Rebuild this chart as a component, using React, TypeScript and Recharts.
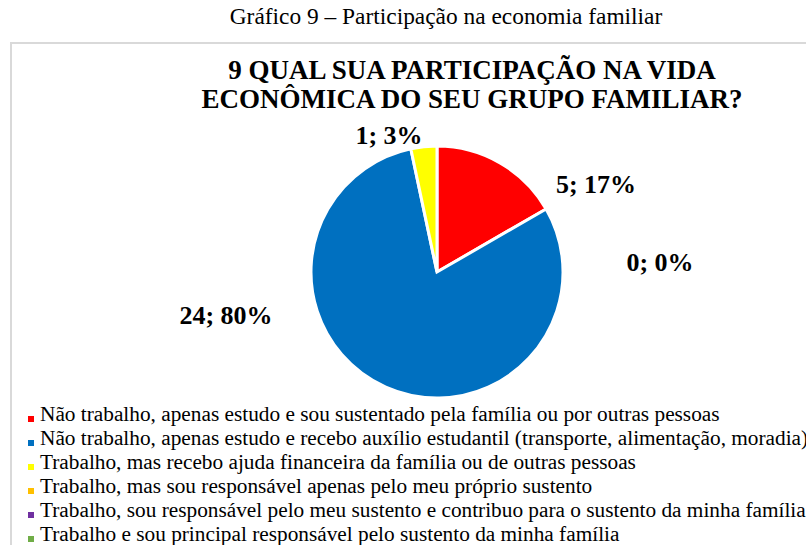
import React from 'react';
import { PieChart, Pie, Cell, Legend } from 'recharts';

const categories = [
  'Não trabalho, apenas estudo e sou sustentado pela família ou por outras pessoas',
  'Não trabalho, apenas estudo e recebo auxílio estudantil (transporte, alimentação, moradia)',
  'Trabalho, mas recebo ajuda financeira da família ou de outras pessoas',
  'Trabalho, mas sou responsável apenas pelo meu próprio sustento',
  'Trabalho, sou responsável pelo meu sustento e contribuo para o sustento da minha família',
  'Trabalho e sou principal responsável pelo sustento da minha família',
];
const values = [5, 24, 1, 0, 0, 0];
const colors = ['#FF0000', '#0070C0', '#FFFF00', '#FFC000', '#7030A0', '#70AD47'];
const caption = 'Gráfico 9 – Participação na economia familiar';
const titleLines = ['9 QUAL SUA PARTICIPAÇÃO NA VIDA', 'ECONÔMICA DO SEU GRUPO FAMILIAR?'];

// label placement offsets relative to pie centre (Excel best-fit layout)
const labelOffsets: Record<number, [number, number]> = {
  0: [159, -88],
  1: [-211, 43],
  2: [-48, -137],
  3: [223, -10],
};

const data = categories.map((name, i) => ({ name, value: values[i], color: colors[i] }));
const total = values.reduce((a, b) => a + b, 0);

const FONT = '"Liberation Serif", "Times New Roman", serif';

const renderLabel = (props: any) => {
  const { cx, cy, index, value } = props;
  const off = labelOffsets[index];
  if (!off) return null;
  const pct = Math.round((value / total) * 100);
  return (
    <text
      x={cx + off[0]}
      y={cy + off[1]}
      textAnchor="middle"
      dominantBaseline="central"
      fontFamily={FONT}
      fontWeight="bold"
      fontSize={26}
      fill="#000"
    >
      {`${value}; ${pct}%`}
    </text>
  );
};

const renderLegend = () => (
  <div style={{ fontFamily: FONT, fontSize: 21.3, color: '#000', lineHeight: '24px' }}>
    {data.map((d) => (
      <div key={d.name} style={{ display: 'flex', alignItems: 'flex-end', whiteSpace: 'nowrap' }}>
        <span
          style={{
            display: 'inline-block',
            width: 6,
            height: 6,
            background: d.color,
            marginRight: 6,
            marginBottom: 4,
            flexShrink: 0,
          }}
        />
        <span>{d.name}</span>
      </div>
    ))}
  </div>
);

export default function App() {
  return (
    <div
      style={{
        position: 'absolute',
        left: 0,
        top: 0,
        width: 806,
        height: 545,
        overflow: 'hidden',
        background: '#fff',
        fontFamily: FONT,
      }}
    >
      <div
        style={{
          position: 'absolute',
          left: 46,
          top: 3,
          width: 800,
          textAlign: 'center',
          fontSize: 23.4,
          color: '#000',
          whiteSpace: 'nowrap',
        }}
      >
        {caption}
      </div>
      <div
        style={{
          position: 'absolute',
          left: 10,
          top: 42,
          width: 820,
          height: 540,
          border: '2px solid #d9d9d9',
          boxSizing: 'border-box',
        }}
      />
      <div
        style={{
          position: 'absolute',
          left: 132,
          top: 56,
          width: 680,
          textAlign: 'center',
          fontSize: 27,
          fontWeight: 'bold',
          lineHeight: '29px',
          color: '#000',
          whiteSpace: 'nowrap',
        }}
      >
        {titleLines.map((t) => (
          <div key={t}>{t}</div>
        ))}
      </div>
      <div style={{ position: 'absolute', left: 0, top: 0 }}>
        <PieChart width={806} height={545} margin={{ top: 0, right: 0, bottom: 0, left: 0 }}>
          <Pie
            data={data}
            dataKey="value"
            nameKey="name"
            cx={437}
            cy={272}
            outerRadius={126}
            startAngle={90}
            endAngle={-270}
            stroke="#fff"
            strokeWidth={3}
            label={renderLabel}
            labelLine={false}
            isAnimationActive={false}
          >
            {data.map((d) => (
              <Cell key={d.name} fill={d.color} />
            ))}
          </Pie>
          <Legend
            content={renderLegend}
            wrapperStyle={{ position: 'absolute', left: 28, top: 402, width: 830 }}
          />
        </PieChart>
      </div>
    </div>
  );
}
